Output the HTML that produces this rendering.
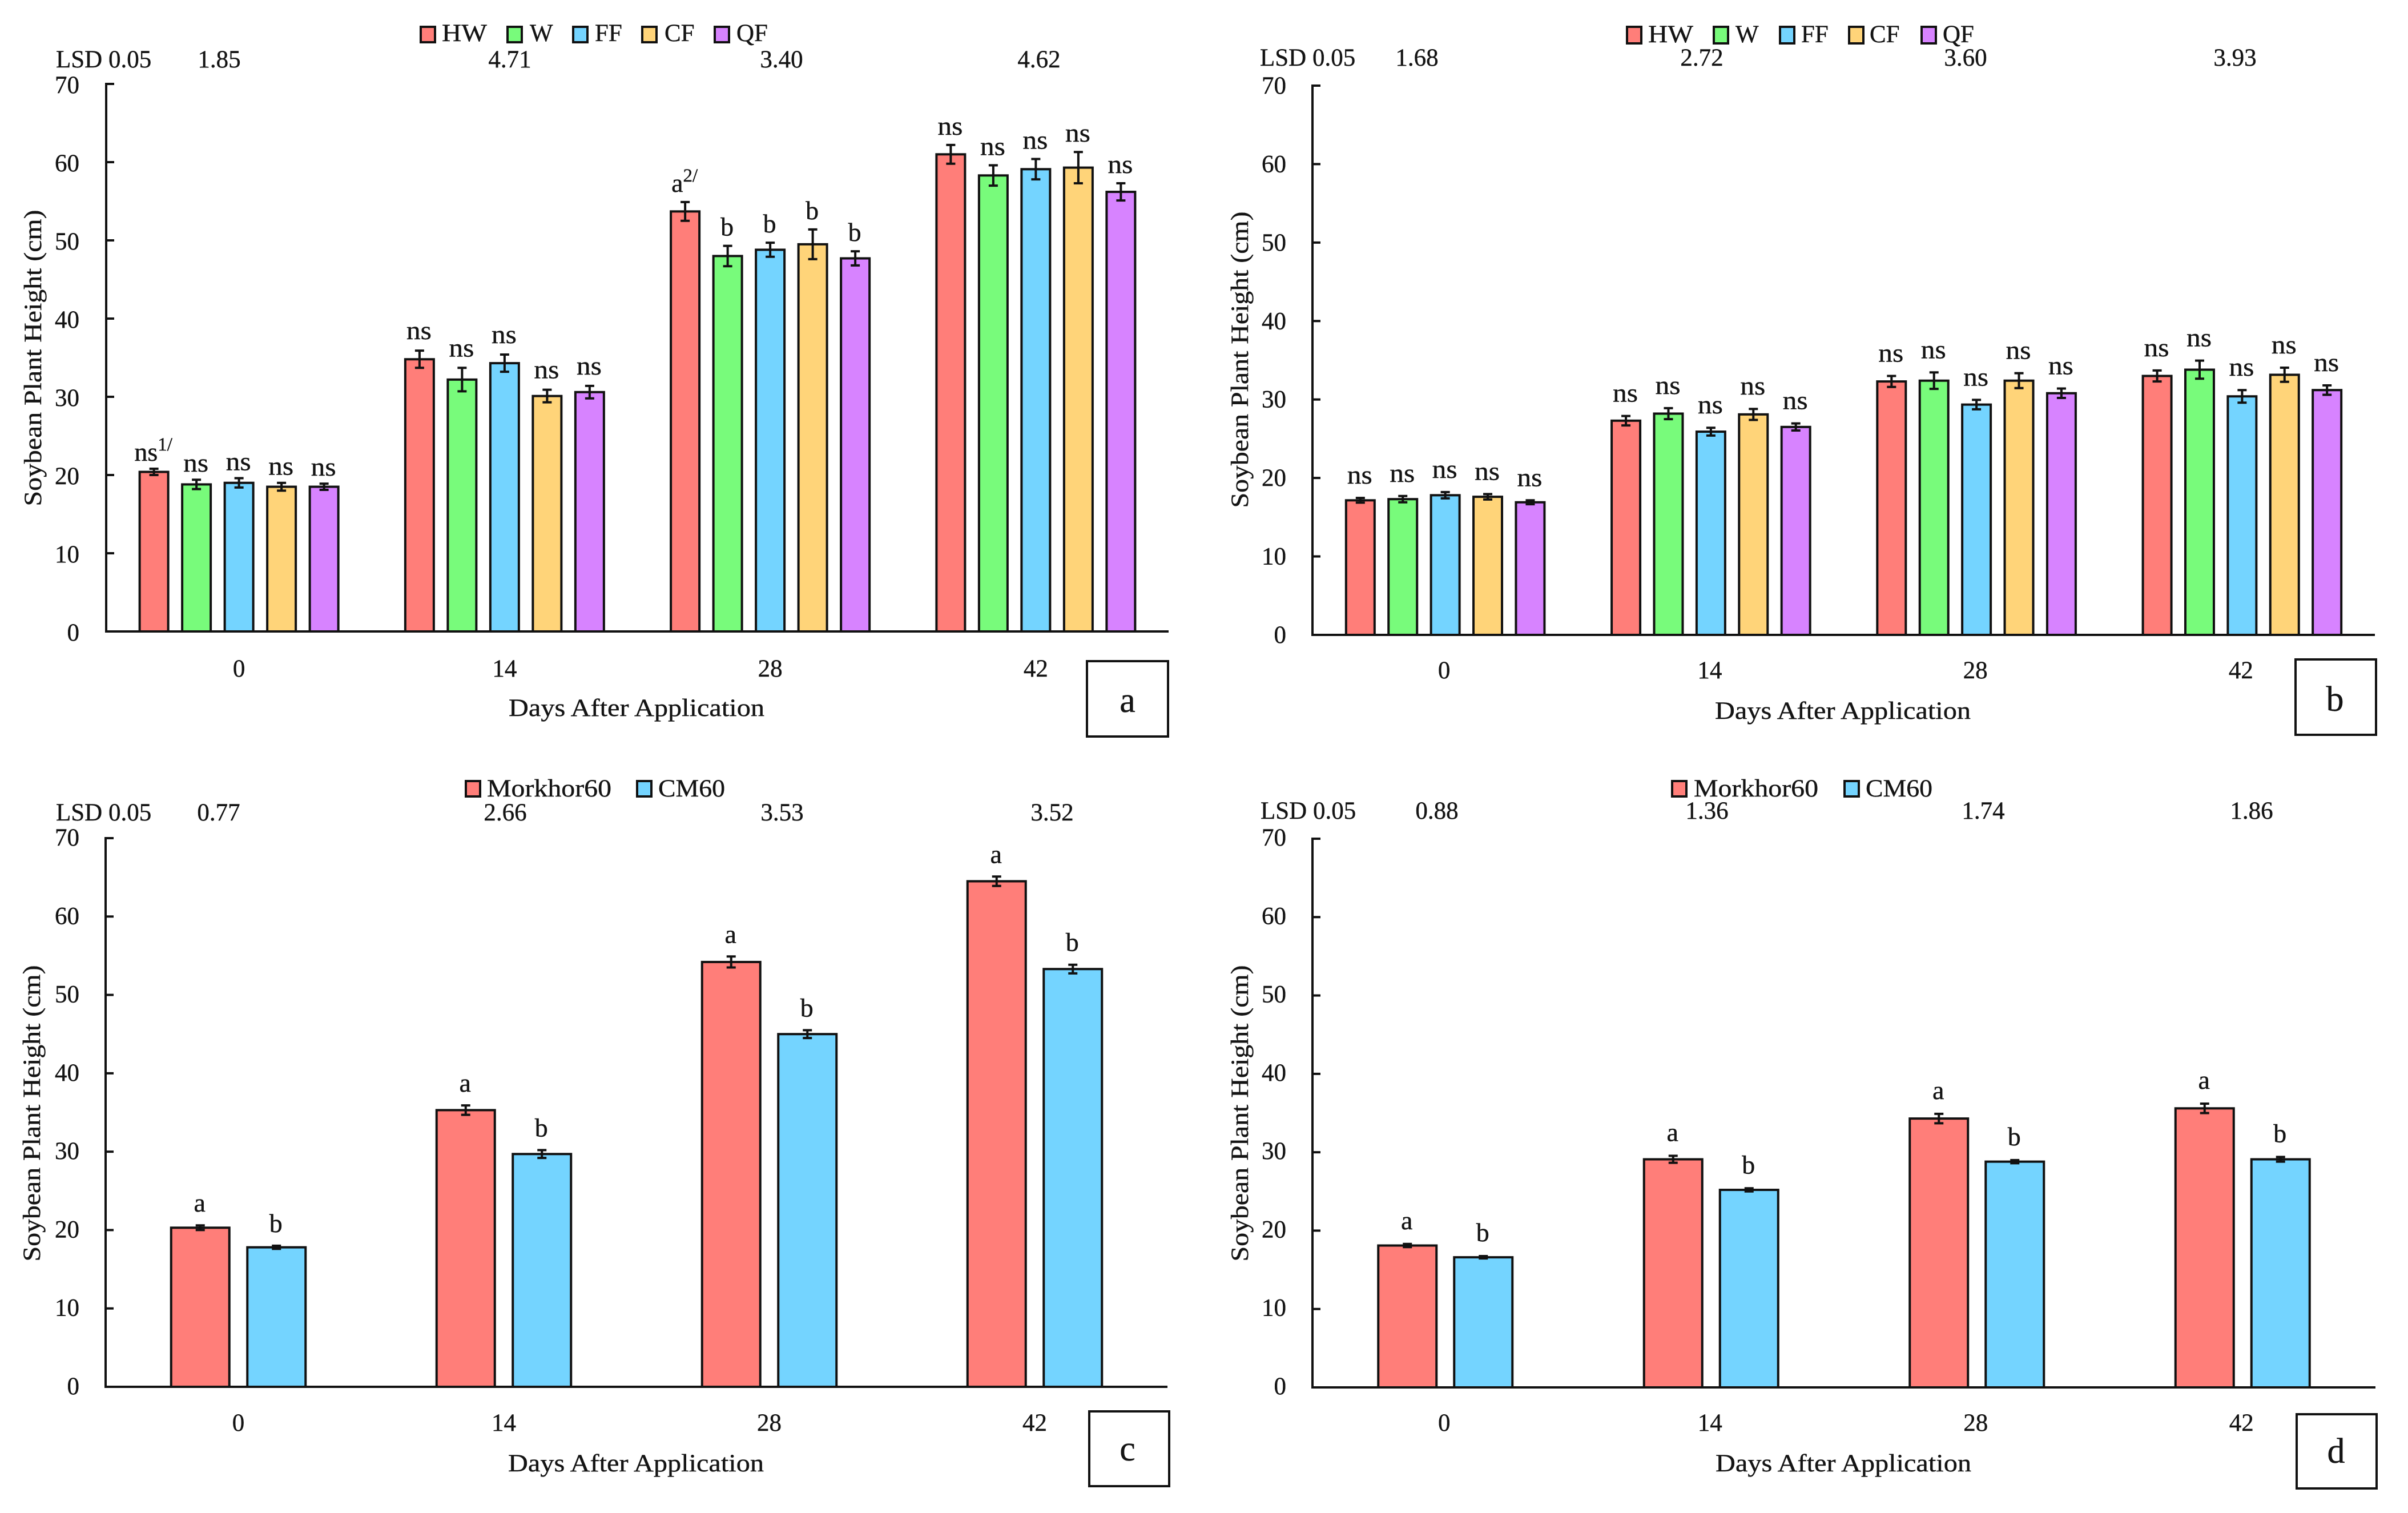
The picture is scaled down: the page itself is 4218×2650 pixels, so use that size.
<!DOCTYPE html>
<html lang="en">
<head>
<meta charset="utf-8">
<title>Soybean Plant Height</title>
<style>
html,body{margin:0;padding:0;background:#fff;}
svg{display:block;}
text{font-family:"Liberation Serif",serif;fill:#141414;font-size:43px;stroke:#141414;stroke-width:0.4px;}
</style>
</head>
<body>
<svg id="chart" xmlns="http://www.w3.org/2000/svg" width="4218" height="2650" viewBox="0 0 4218 2650"></svg>
<script>
const xCategories = ['0', '14', '28', '42'];
const yTicks = [0, 10, 20, 30, 40, 50, 60, 70];
const weedSeries = ['HW', 'W', 'FF', 'CF', 'QF'];
const varietySeries = ['Morkhor60', 'CM60'];

const panelAValues = [[20.4, 34.8, 53.7, 61.0], [18.8, 32.2, 48.0, 58.3], [19.0, 34.3, 48.8, 59.1], [18.5, 30.1, 49.5, 59.3], [18.5, 30.6, 47.7, 56.2]];
const panelAErrors = [[0.4, 1.1, 1.2, 1.2], [0.6, 1.5, 1.3, 1.3], [0.6, 1.1, 0.9, 1.3], [0.5, 0.8, 1.9, 2.0], [0.4, 0.8, 0.9, 1.1]];
const panelALetters = [['ns', 'ns', 'a', 'ns'], ['ns', 'ns', 'b', 'ns'], ['ns', 'ns', 'b', 'ns'], ['ns', 'ns', 'b', 'ns'], ['ns', 'ns', 'b', 'ns']];
const panelALsd = ['1.85', '4.71', '3.40', '4.62'];

const panelBValues = [[17.15, 27.3, 32.3, 33.0], [17.3, 28.2, 32.4, 33.8], [17.8, 25.9, 29.35, 30.4], [17.6, 28.1, 32.4, 33.15], [16.9, 26.5, 30.8, 31.2]];
const panelBErrors = [[0.3, 0.6, 0.7, 0.7], [0.4, 0.7, 1.05, 1.15], [0.4, 0.5, 0.6, 0.8], [0.35, 0.7, 0.95, 0.9], [0.25, 0.45, 0.6, 0.6]];
const panelBLetters = [['ns', 'ns', 'ns', 'ns'], ['ns', 'ns', 'ns', 'ns'], ['ns', 'ns', 'ns', 'ns'], ['ns', 'ns', 'ns', 'ns'], ['ns', 'ns', 'ns', 'ns']];
const panelBLsd = ['1.68', '2.72', '3.60', '3.93'];

const panelCValues = [[20.3, 35.3, 54.2, 64.5], [17.8, 29.7, 45.0, 53.3]];
const panelCErrors = [[0.3, 0.6, 0.7, 0.6], [0.2, 0.5, 0.5, 0.55]];
const panelCLetters = [['a', 'a', 'a', 'a'], ['b', 'b', 'b', 'b']];
const panelCLsd = ['0.77', '2.66', '3.53', '3.52'];

const panelDValues = [[18.1, 29.1, 34.3, 35.6], [16.6, 25.2, 28.8, 29.1]];
const panelDErrors = [[0.2, 0.45, 0.6, 0.6], [0.15, 0.2, 0.2, 0.3]];
const panelDLetters = [['a', 'a', 'a', 'a'], ['b', 'b', 'b', 'b']];
const panelDLsd = ['0.88', '1.36', '1.74', '1.86'];

const weedColors = {HW: '#FF7E79', W: '#78FB7B', FF: '#74D4FF', CF: '#FFD479', QF: '#D783FF'};
const varietyColors = {Morkhor60: '#FF7E79', CM60: '#74D4FF'};

const NS = 'http://www.w3.org/2000/svg';
const svg = document.getElementById('chart');

function make(tag, parent, attrs) {
  const el = document.createElementNS(NS, tag);
  for (const k in attrs) el.setAttribute(k, attrs[k]);
  parent.appendChild(el);
  return el;
}
function label(parent, str, x, y, anchor, extra) {
  const el = make('text', parent, Object.assign({x: x, y: y, 'text-anchor': anchor || 'middle'}, extra || {}));
  el.textContent = str;
  return el;
}

const panels = [
  {id: 'a', series: weedSeries, colors: weedColors, values: panelAValues, errors: panelAErrors, letters: panelALetters, lsd: panelALsd,
   supers: {'0-0': '1/', '0-2': '2/'},
   axisX: 186, axisRight: 2047, top: 147, bottom: 1106, barW: 50, pitch: 74.5, letterGap: {g0: 14, g1: 20, g2: 18, g3: 18},
   tickEnd: 139, tickBase: 16, catBase: 1185, catShift: 0, titleBase: 1254, titleX: 1115, yTitleX: 72, yTitleY: 627,
   lsdBase: 118, lsdX: 98, lsdCenters: {v0: 384, v1: 893, v2: 1369, v3: 1820},
   legendBase: 72, legendTop: 47, legendSwatchH: 27,
   legendSwatches: {HW: 735, W: 887, FF: 1002, CF: 1123, QF: 1250}, legendTexts: {HW: 774, W: 928, FF: 1042, CF: 1164, QF: 1290},
   box: {x: 1904, y: 1158, w: 142, h: 132, cx: 1975, base: 1247}},
  {id: 'b', series: weedSeries, colors: weedColors, values: panelBValues, errors: panelBErrors, letters: panelBLetters, lsd: panelBLsd,
   supers: {},
   axisX: 2299, axisRight: 4160, top: 150, bottom: 1112, barW: 50, pitch: 74.4, letterGap: {g0: 25, g1: 25, g2: 25, g3: 25},
   tickEnd: 2253, tickBase: 14, catBase: 1188, catShift: -2, titleBase: 1259, titleX: 3228, yTitleX: 2186, yTitleY: 630,
   lsdBase: 115, lsdX: 2207, lsdCenters: {v0: 2482, v1: 2981, v2: 3443, v3: 3915},
   legendBase: 74, legendTop: 47, legendSwatchH: 29,
   legendSwatches: {HW: 2848, W: 3000, FF: 3116, CF: 3237, QF: 3364}, legendTexts: {HW: 2887, W: 3040, FF: 3155, CF: 3275, QF: 3403},
   box: {x: 4021, y: 1155, w: 141, h: 132, cx: 4090, base: 1245}},
  {id: 'c', series: varietySeries, colors: varietyColors, values: panelCValues, errors: panelCErrors, letters: panelCLetters, lsd: panelCLsd,
   supers: {},
   axisX: 185, axisRight: 2045, top: 1468, bottom: 2429, barW: 102, pitch: 133.5, letterGap: {g0: 24, g1: 24, g2: 24, g3: 24},
   tickEnd: 139, tickBase: 13, catBase: 2506, catShift: 0, titleBase: 2577, titleX: 1114, yTitleX: 70, yTitleY: 1950,
   lsdBase: 1437, lsdX: 98, lsdCenters: {v0: 383, v1: 885, v2: 1370, v3: 1843},
   legendBase: 1395, legendTop: 1368, legendSwatchH: 27,
   legendSwatches: {Morkhor60: 814, CM60: 1114}, legendTexts: {Morkhor60: 853, CM60: 1153},
   legendLengths: {Morkhor60: 218, CM60: 117},
   box: {x: 1908, y: 2472, w: 140, h: 131, cx: 1975, base: 2558}},
  {id: 'd', series: varietySeries, colors: varietyColors, values: panelDValues, errors: panelDErrors, letters: panelDLetters, lsd: panelDLsd,
   supers: {},
   axisX: 2299, axisRight: 4161, top: 1469, bottom: 2430, barW: 102, pitch: 133, letterGap: {g0: 26, g1: 26, g2: 26, g3: 26},
   tickEnd: 2253, tickBase: 12, catBase: 2506, catShift: -2, titleBase: 2577, titleX: 3229, yTitleX: 2186, yTitleY: 1950,
   lsdBase: 1434, lsdX: 2208, lsdCenters: {v0: 2517, v1: 2990, v2: 3474, v3: 3944},
   legendBase: 1395, legendTop: 1368, legendSwatchH: 27,
   legendSwatches: {Morkhor60: 2927, CM60: 3229}, legendTexts: {Morkhor60: 2967, CM60: 3268},
   legendLengths: {Morkhor60: 218, CM60: 117},
   box: {x: 4023, y: 2477, w: 140, h: 130, cx: 4092, base: 2562}}
];

function yScale(p, v) {
  return p.bottom - (v / 70) * (p.bottom - p.top);
}
function xGroup(p, i) {
  return p.axisX + (i + 0.5) * (p.axisRight - p.axisX) / xCategories.length;
}
function xBar(p, i, s) {
  return xGroup(p, i) + (s - (p.series.length - 1) / 2) * p.pitch;
}

panels.forEach(function (p) {
  const g = make('g', svg, {});
  
  

  // legend
  p.series.forEach(function (name) {
    const swatch = make('rect', g, {x: p.legendSwatches[name] + 2, y: p.legendTop, width: 25, height: p.legendSwatchH, fill: p.colors[name], stroke: '#111', 'stroke-width': 4});
    
    
    const extra = {};
    if (p.legendLengths) { extra.textLength = p.legendLengths[name]; extra.lengthAdjust = 'spacingAndGlyphs'; }
    else if (name === 'HW') { extra.textLength = 79; extra.lengthAdjust = 'spacingAndGlyphs'; }
    const t = label(g, name, p.legendTexts[name], p.legendBase, 'start', extra);
    
    
  });

  // LSD row
  const lsdHead = label(g, 'LSD 0.05', p.lsdX, p.lsdBase, 'start');
  
  
  p.lsd.forEach(function (v, i) {
    const t = label(g, v, p.lsdCenters['v' + i], p.lsdBase);
    
    
  });

  // bars, error bars, significance letters
  p.series.forEach(function (name, s) {
    p.values[s].forEach(function (v, i) {
      const cx = xBar(p, i, s);
      const yTop = yScale(p, v);
      const bar = make('rect', g, {x: cx - p.barW / 2, y: yTop, width: p.barW, height: p.bottom - yTop, fill: p.colors[name], stroke: '#111', 'stroke-width': 4});
      
      

      const e = p.errors[s][i];
      const yHi = yScale(p, v + e);
      const yLo = yScale(p, v - e);
      const err = make('path', g, {d: 'M' + (cx - 8) + ' ' + yHi + 'H' + (cx + 8) + 'M' + cx + ' ' + yHi + 'V' + yLo + 'M' + (cx - 8) + ' ' + yLo + 'H' + (cx + 8), fill: 'none', stroke: '#111', 'stroke-width': 4});
      
      

      const letter = p.letters[s][i];
      const sup = p.supers[s + '-' + i];
      const extra = {style: 'font-size:46px'};
      if (letter === 'ns' && !sup) { extra.textLength = 44; extra.lengthAdjust = 'spacingAndGlyphs'; }
      const t = label(g, letter, cx - 1, yHi - p.letterGap['g' + i], 'middle', extra);
      
      
      if (sup) {
        const st = make('tspan', t, {dy: -18, style: 'font-size:33px'});
        st.textContent = sup;
      }
    });
  });

  // axes
  const yAxis = make('line', g, {x1: p.axisX, x2: p.axisX, y1: p.top - 2, y2: p.bottom + 2, stroke: '#111', 'stroke-width': 4});
  
  
  const xAxis = make('line', g, {x1: p.axisX, x2: p.axisRight, y1: p.bottom, y2: p.bottom, stroke: '#111', 'stroke-width': 4});
  
  

  yTicks.forEach(function (tv) {
    const y = yScale(p, tv);
    const tick = make('line', g, {x1: p.axisX, x2: p.axisX + 14, y1: y, y2: y, stroke: '#111', 'stroke-width': 4});
    
    
    const t = label(g, String(tv), p.tickEnd, y + p.tickBase, 'end');
    
    
  });

  xCategories.forEach(function (c, i) {
    const t = label(g, c, xGroup(p, i) + p.catShift, p.catBase);
    
    
  });

  // titles
  const xTitle = label(g, 'Days After Application', p.titleX, p.titleBase, 'middle', {textLength: 448, lengthAdjust: 'spacingAndGlyphs'});
  
  
  const yTitle = label(g, 'Soybean Plant Height (cm)', 0, 0, 'middle', {textLength: 519, lengthAdjust: 'spacingAndGlyphs', transform: 'translate(' + p.yTitleX + ' ' + p.yTitleY + ') rotate(-90)'});
  
  

  // panel letter box
  const box = make('rect', g, {x: p.box.x, y: p.box.y, width: p.box.w, height: p.box.h, fill: '#fff', stroke: '#111', 'stroke-width': 4});
  
  
  const boxText = label(g, p.id, p.box.cx, p.box.base, 'middle', {style: 'font-size:62px'});
  
  
});
</script>
</body>
</html>
